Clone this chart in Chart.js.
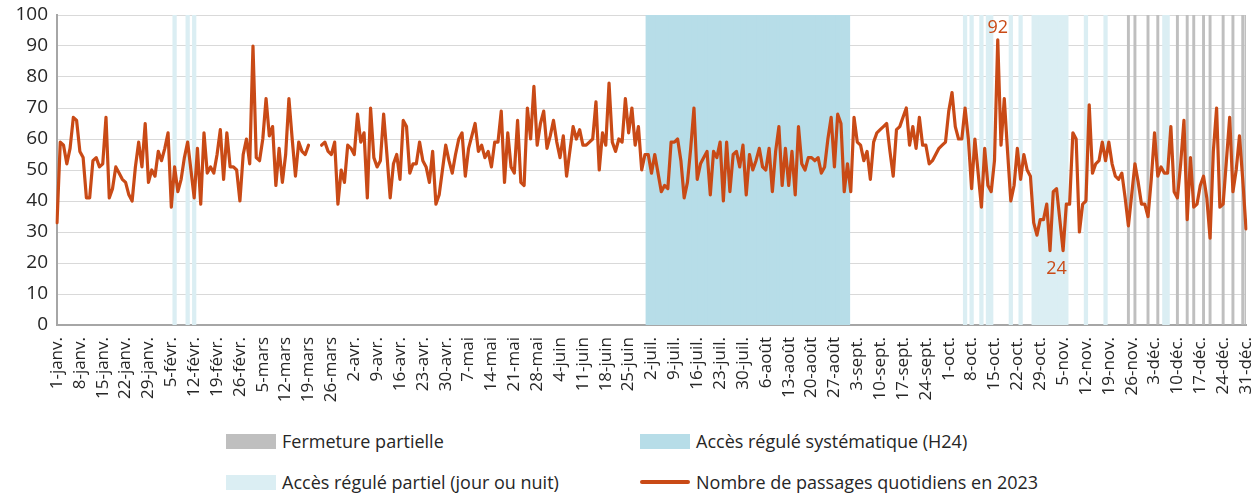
<!DOCTYPE html>
<html lang="fr">
<head>
<meta charset="utf-8">
<script src="https://cdn.jsdelivr.net/npm/chart.js@4/dist/chart.umd.min.js"></script>
<style>
  body { margin: 0; background: #fff; font-family: "Open Sans", sans-serif; color: #262626; }
  #wrap { position: relative; width: 1257px; height: 495px; }
  #chartBox { position: absolute; left: 0; top: 0; width: 1257px; height: 425px; }
  .legend-item { position: absolute; display: flex; align-items: center; font-size: 18px; line-height: 22px; white-space: nowrap; }
  .swatch { width: 50px; height: 15px; margin-right: 6px; }
  .swatch-line { width: 50px; height: 4px; margin-right: 6px; border-radius: 2px; }
</style>
</head>
<body>
<div id="wrap">
  <div id="chartBox"><canvas id="chart" width="1257" height="425"></canvas></div>
  <div class="legend-item" style="left:226px; top:430px;"><span class="swatch" style="background:#bfbfbf"></span>Fermeture partielle</div>
  <div class="legend-item" style="left:640px; top:430px;"><span class="swatch" style="background:#b7dde8"></span>Accès régulé systématique (H24)</div>
  <div class="legend-item" style="left:226px; top:471px;"><span class="swatch" style="background:#dbeef3"></span>Accès régulé partiel (jour ou nuit)</div>
  <div class="legend-item" style="left:640px; top:471px;"><span class="swatch-line" style="background:#c94a16"></span>Nombre de passages quotidiens en 2023</div>
</div>
<script>
// daily counts, 1 Jan -> 31 Dec 2023 (null = no data)
const passagesJan = [33, 59, 58, 52, 57, 67, 66, 56, 54, 41, 41, 53, 54, 51, 52, 67, 41, 44, 51, 49, 47, 46, 42, 40, 51, 59, 51, 65, 46, 50, 48];
const passagesFeb = [56, 53, 57, 62, 38, 51, 43, 47, 54, 59, 50, 41, 57, 39, 62, 49, 51, 49, 55, 63, 47, 62, 51, 51, 50, 40, 55, 60];
const passagesMar = [52, 90, 54, 53, 60, 73, 61, 64, 45, 57, 46, 55, 73, 60, 48, 59, 56, 55, 58, null, null, null, 58, 59, 56, 55, 59, 39, 50, 46, 58];
const passagesApr = [57, 55, 68, 59, 62, 41, 70, 54, 51, 53, 68, 55, 41, 52, 55, 47, 66, 64, 49, 52, 52, 59, 53, 51, 46, 56, 39, 42, 50, 58];
const passagesMay = [53, 49, 55, 60, 62, 48, 57, 61, 65, 56, 58, 54, 56, 51, 59, 59, 69, 46, 62, 51, 49, 66, 46, 45, 70, 60, 77, 58, 65, 69, 57];
const passagesJun = [61, 66, 59, 54, 61, 48, 56, 64, 60, 63, 58, 58, 59, 60, 72, 50, 62, 58, 78, 59, 56, 60, 59, 73, 62, 70, 58, 64, 50, 55];
const passagesJul = [55, 49, 55, 49, 43, 45, 44, 59, 59, 60, 53, 41, 46, 57, 70, 47, 52, 54, 56, 42, 56, 54, 59, 40, 59, 43, 55, 56, 51, 58, 42];
const passagesAug = [55, 50, 53, 57, 51, 50, 57, 43, 56, 64, 45, 57, 45, 56, 42, 64, 52, 50, 54, 54, 53, 54, 49, 51, 60, 67, 51, 68, 65, 43, 52];
const passagesSep = [43, 67, 59, 58, 53, 56, 47, 59, 62, 63, 64, 65, 56, 48, 63, 64, 67, 70, 58, 64, 57, 67, 58, 58, 52, 53, 55, 57, 58, 59];
const passagesOct = [69, 75, 64, 60, 60, 70, 60, 44, 60, 49, 38, 57, 45, 43, 53, 92, 58, 73, 56, 40, 45, 57, 47, 55, 50, 48, 33, 29, 34, 34, 39];
const passagesNov = [24, 43, 44, 34, 24, 39, 39, 62, 60, 30, 39, 40, 71, 49, 52, 53, 59, 53, 59, 52, 48, 47, 49, 41, 32, 42, 52, 46, 39, 39];
const passagesDec = [35, 47, 62, 48, 51, 49, 49, 64, 43, 41, 52, 66, 34, 54, 38, 39, 45, 48, 41, 28, 56, 70, 38, 39, 53, 67, 43, 50, 61, 47, 31];

// periods as [first day, last day], day 0 = 1 Jan
const closurePeriods = [[328, 328], [330, 330], [334, 334], [337, 337], [343, 343], [346, 346], [348, 348], [351, 351], [353, 353], [357, 357], [360, 360], [363, 364]];
const h24Periods = [[181, 242]];
const partialPeriods = [[36, 36], [40, 40], [42, 42], [278, 278], [280, 280], [283, 283], [285, 286], [292, 292], [295, 295], [299, 309], [315, 315], [321, 321], [339, 340]];

// one label every 7 days
const tickLabels = ['1-janv.', '8-janv.', '15-janv.', '22-janv.', '29-janv.', '5-févr.', '12-févr.', '19-févr.', '26-févr.',
  '5-mars', '12-mars', '19-mars', '26-mars', '2-avr.', '9-avr.', '16-avr.', '23-avr.', '30-avr.', '7-mai', '14-mai', '21-mai', '28-mai',
  '4-juin', '11-juin', '18-juin', '25-juin', '2-juil.', '9-juil.', '16-juil.', '23-juil.', '30-juil.', '6-août', '13-août', '20-août', '27-août',
  '3-sept.', '10-sept.', '17-sept.', '24-sept.', '1-oct.', '8-oct.', '15-oct.', '22-oct.', '29-oct.', '5-nov.', '12-nov.', '19-nov.', '26-nov.',
  '3-déc.', '10-déc.', '17-déc.', '24-déc.', '31-déc.'];

const passages = [].concat(passagesJan, passagesFeb, passagesMar, passagesApr, passagesMay, passagesJun,
  passagesJul, passagesAug, passagesSep, passagesOct, passagesNov, passagesDec);
const days = passages.map((v, i) => i);

function bandData(periods) {
  const out = days.map(() => null);
  periods.forEach(([a, b]) => {
    for (let d = a; d <= b; d++) out[d] = 100;
  });
  return out;
}

const FONT = "'Open Sans', sans-serif";
const LINE_COLOR = '#c94a16';

// labels on the max and min of the series
const extremeLabels = {
  id: 'extremeLabels',
  afterDatasetsDraw(chart) {
    const meta = chart.getDatasetMeta(0);
    const vals = passages.filter(v => v !== null);
    const max = Math.max(...vals), min = Math.min(...vals);
    const ctx = chart.ctx;
    ctx.save();
    ctx.fillStyle = LINE_COLOR;
    ctx.font = '18px ' + FONT;
    ctx.textAlign = 'center';
    ctx.textBaseline = 'alphabetic';
    const pMax = meta.data[passages.indexOf(max)];
    ctx.fillText(String(max), pMax.x, pMax.y - 7);
    const minIdx = passages.map((v, i) => v === min ? i : -1).filter(i => i >= 0);
    const xs = minIdx.map(i => meta.data[i].x);
    const xMin = xs.reduce((a, b) => a + b, 0) / xs.length;
    ctx.fillText(String(min), xMin, meta.data[minIdx[0]].y + 23);
    ctx.restore();
  }
};

new Chart(document.getElementById('chart'), {
  type: 'bar',
  data: {
    labels: days,
    datasets: [
      {
        type: 'line',
        label: 'Nombre de passages quotidiens en 2023',
        data: passages,
        borderColor: LINE_COLOR,
        borderWidth: 3.2,
        pointRadius: 0,
        tension: 0,
        spanGaps: false,
        borderJoinStyle: 'round',
        borderCapStyle: 'round',
        order: 0
      },
      {
        label: 'Accès régulé systématique (H24)',
        data: bandData(h24Periods),
        backgroundColor: '#b7dde8',
        grouped: false,
        barPercentage: 1,
        categoryPercentage: 1,
        inflateAmount: 1,
        order: 1
      },
      {
        label: 'Accès régulé partiel (jour ou nuit)',
        data: bandData(partialPeriods),
        backgroundColor: '#dbeef3',
        grouped: false,
        barPercentage: 1,
        categoryPercentage: 1,
        inflateAmount: 0.5,
        order: 1
      },
      {
        label: 'Fermeture partielle',
        data: bandData(closurePeriods),
        backgroundColor: '#bfbfbf',
        grouped: false,
        barPercentage: 0.9,
        categoryPercentage: 1,
        inflateAmount: 0,
        order: 1
      }
    ]
  },
  options: {
    responsive: false,
    animation: false,
    layout: { padding: { top: 15, right: 11, left: 0, bottom: 0 } },
    plugins: {
      legend: { display: false },
      tooltip: { enabled: false }
    },
    scales: {
      x: {
        offset: false,
        grid: { display: false, drawTicks: true, tickLength: 12, tickColor: 'transparent' },
        border: { color: '#a6a6a6', width: 2 },
        ticks: {
          autoSkip: false,
          minRotation: 90,
          maxRotation: 90,
          padding: 0,
          color: '#262626',
          font: { family: FONT, size: 17 },
          callback: (v, i) => (i % 7 === 0 ? tickLabels[i / 7] : '')
        },
        afterFit: scale => {
          scale.height = 100;
          scale.paddingLeft = 0;
          scale.paddingRight = 0;
        }
      },
      y: {
        min: 0,
        max: 100,
        grid: { color: '#d9d9d9', lineWidth: 1, drawTicks: true, tickLength: 9, tickColor: 'transparent' },
        border: { color: '#a6a6a6', width: 2 },
        ticks: {
          stepSize: 10,
          padding: 0,
          color: '#262626',
          font: { family: FONT, size: 19 }
        },
        afterFit: scale => {
          scale.width = 57;
          scale.paddingTop = 0;
          scale.paddingBottom = 0;
        }
      }
    }
  },
  plugins: [extremeLabels]
});
</script>
</body>
</html>
